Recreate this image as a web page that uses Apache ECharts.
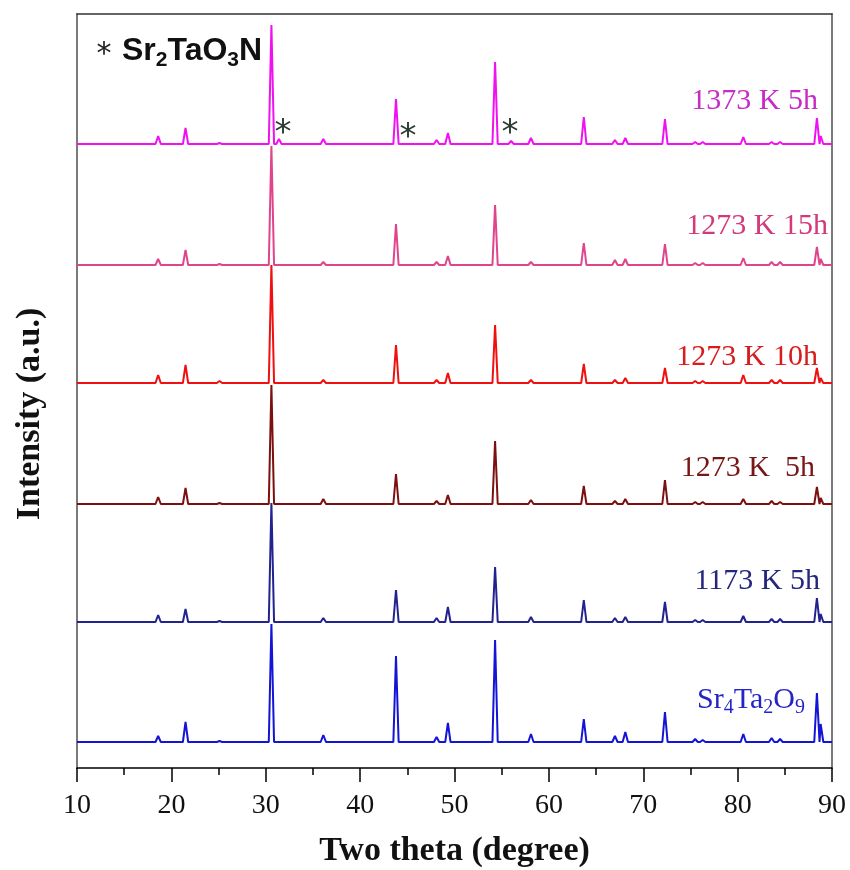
<!DOCTYPE html>
<html><head><meta charset="utf-8">
<script src="https://cdn.jsdelivr.net/npm/echarts@6/dist/echarts.min.js"></script>
<style>html,body{margin:0;padding:0;background:#fff}#c{width:850px;height:870px}</style>
</head><body><div id="c"></div>
<script>
// 2-theta positions of the reflections (degrees)
const peakPositions = [18.6, 21.5, 25.1, 30.6, 31.4, 36.1, 43.8, 48.1, 49.3, 54.3, 56.0, 58.1, 63.7, 67.0, 68.1, 72.3, 75.5, 76.3, 80.6, 83.6, 84.5, 88.4, 88.8];
// peak intensities (a.u.) for each pattern
const sr4ta2o9   = [6, 20, 1, 118, 0, 7, 86, 5, 19, 102, 0, 8, 23, 6, 10, 30, 3, 2, 8, 4, 3, 49, 18];
const k1173_5h   = [7, 13, 1, 119, 0, 4, 32, 4, 15, 55, 0, 5, 22, 4, 5, 20, 2, 2, 6, 3, 3, 24, 8];
const k1273_5h   = [7, 16, 1, 119, 0, 5, 30, 3, 9, 63, 0, 4, 18, 3, 5, 24, 2, 2, 5, 3, 2, 17, 6];
const k1273_10h  = [8, 18, 2, 118, 0, 3, 38, 3, 10, 58, 0, 3, 19, 3, 5, 15, 2, 2, 8, 3, 3, 15, 5];
const k1273_15h  = [6, 15, 1, 119, 0, 3, 41, 3, 9, 60, 0, 3, 22, 5, 6, 21, 2, 2, 7, 3, 3, 18, 6];
const k1373_5h   = [8, 16, 1, 119, 5, 5, 45, 4, 11, 82, 3, 6, 27, 4, 6, 25, 2, 2, 7, 2, 2, 26, 8];
// vertical offsets of the stacked patterns
const offsets = [0, 120, 238, 359, 477, 598];
const seriesNames = ['Sr4Ta2O9', '1173 K 5h', '1273 K  5h', '1273 K 10h', '1273 K 15h', '1373 K 5h'];
const xTickValues = [10, 20, 30, 40, 50, 60, 70, 80, 90];

const patterns = [sr4ta2o9, k1173_5h, k1273_5h, k1273_10h, k1273_15h, k1373_5h];
const colors = ['#1414d6', '#23238f', '#7c1010', '#f01010', '#e0458c', '#f010f0'];
const labelColors = ['#2424c8', '#26267e', '#7a1616', '#d81c1c', '#d23a7c', '#c62cc6'];
const HW = 0.28; // drawn half-width of each reflection

function profile(heights, off) {
  const pts = [[10, off]];
  peakPositions.forEach((p, i) => {
    pts.push([p - HW, off], [p, off + heights[i]], [p + HW, off]);
  });
  pts.push([90, off]);
  return pts;
}

const chart = echarts.init(document.getElementById('c'), null, {renderer: 'canvas'});
const serif = 'Liberation Serif';

const series = patterns.map((h, i) => ({
  name: seriesNames[i],
  type: 'line',
  data: profile(h, offsets[i]),
  showSymbol: false,
  symbol: 'none',
  lineStyle: {color: colors[i], width: 2},
  itemStyle: {color: colors[i]},
  silent: true,
  z: 2 + i
}));

function lbl(text, right, cy, color) {
  return {type: 'text', x: right, y: cy, z: 50,
    style: {text: text, fill: color, font: '30px "Liberation Serif"',
      align: 'right', verticalAlign: 'middle', textAlign: 'right', textVerticalAlign: 'middle'}};
}
function star(x, y, size, color) {
  return {type: 'text', x: x, y: y, z: 50,
    style: {text: '*', fill: color, font: size + 'px "DejaVu Sans"',
      align: 'center', verticalAlign: 'middle', textAlign: 'center', textVerticalAlign: 'middle'}};
}

const graphic = [
  lbl('1373 K 5h', 818, 101, labelColors[5]),
  lbl('1273 K 15h', 828, 226, labelColors[4]),
  lbl('1273 K 10h', 818, 357, labelColors[3]),
  lbl('1273 K  5h', 815, 468, labelColors[2]),
  lbl('1173 K 5h', 820, 581, labelColors[1]),
  {type: 'text', x: 805, y: 700, z: 50,
    style: {text: '{m|Sr}{s|4}{m|Ta}{s|2}{m|O}{s|9}', align: 'right', verticalAlign: 'middle',
      textAlign: 'right', textVerticalAlign: 'middle',
      rich: {
        m: {fontFamily: serif, fontSize: 30, lineHeight: 36, fill: labelColors[0], color: labelColors[0]},
        s: {fontFamily: serif, fontSize: 20, lineHeight: 20, verticalAlign: 'bottom', fill: labelColors[0], color: labelColors[0]}
      }}},
  {type: 'text', x: 122, y: 51, z: 50,
    style: {text: '{m|Sr}{s|2}{m|TaO}{s|3}{m|N}', align: 'left', verticalAlign: 'middle',
      textAlign: 'left', textVerticalAlign: 'middle',
      rich: {
        m: {fontFamily: 'Liberation Sans', fontWeight: 'bold', fontSize: 32, lineHeight: 40, fill: '#111', color: '#111'},
        s: {fontFamily: 'Liberation Sans', fontWeight: 'bold', fontSize: 21, lineHeight: 20, verticalAlign: 'bottom', fill: '#111', color: '#111'}
      }}},
  {type: 'text', x: 30, y: 414, z: 50, rotation: Math.PI / 2,
    style: {text: 'Intensity (a.u.)', fill: '#111', font: 'bold 34px "Liberation Serif"',
      align: 'center', verticalAlign: 'middle', textAlign: 'center', textVerticalAlign: 'middle'}},
  star(104, 55, 30, '#222'),
  star(283, 134, 34, '#2a3a30'),
  star(408, 138, 34, '#2a3a30'),
  star(510, 134, 34, '#2a3a30')
];

const option = {
  animation: false,
  backgroundColor: '#fff',
  grid: {left: 77, right: 18, top: 14, bottom: 102, containLabel: false, outerBoundsMode: 'none'},
  xAxis: [{
    type: 'value', min: 10, max: 90, interval: 10, position: 'bottom',
    axisLine: {show: true, onZero: false, lineStyle: {color: '#000', width: 1.5}},
    axisTick: {show: true, inside: false, length: 14, lineStyle: {color: '#000', width: 1.5}},
    minorTick: {show: true, splitNumber: 2, length: 7, lineStyle: {color: '#000', width: 1.5}},
    splitLine: {show: false},
    axisLabel: {fontFamily: serif, fontSize: 28, color: '#111', margin: 24,
      formatter: v => (xTickValues.indexOf(v) >= 0 ? String(v) : '')},
    name: 'Two theta (degree)', nameLocation: 'middle', nameGap: 66,
    nameTextStyle: {fontFamily: serif, fontWeight: 'bold', fontSize: 34, color: '#111'}
  }, {
    type: 'value', min: 10, max: 90, position: 'top',
    axisLine: {show: true, onZero: false, lineStyle: {color: '#333', width: 1.5}},
    axisTick: {show: false}, axisLabel: {show: false}, splitLine: {show: false}
  }],
  yAxis: [{
    type: 'value', min: -26, max: 728, position: 'left',
    axisLine: {show: true, onZero: false, lineStyle: {color: '#7a7a7a', width: 2}},
    axisTick: {show: false}, axisLabel: {show: false}, splitLine: {show: false}
  }, {
    type: 'value', min: -26, max: 728, position: 'right',
    axisLine: {show: true, onZero: false, lineStyle: {color: '#7a7a7a', width: 2}},
    axisTick: {show: false}, axisLabel: {show: false}, splitLine: {show: false}
  }],
  series: series,
  graphic: graphic
};
chart.setOption(option);
</script>
</body></html>
